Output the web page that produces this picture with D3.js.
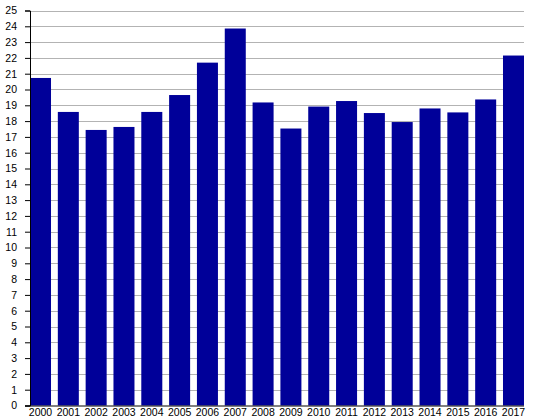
<!DOCTYPE html>
<html><head><meta charset="utf-8">
<script src="https://cdn.jsdelivr.net/npm/d3@7"></script>
<style>body{margin:0;background:#fff;} svg{display:block;font-family:"Liberation Sans",Arial,sans-serif;}</style>
</head><body>
<svg id="chart" width="538" height="420"></svg>
<script>
const years = ["2000","2001","2002","2003","2004","2005","2006","2007","2008","2009","2010","2011","2012","2013","2014","2015","2016","2017"];
const values = [20.73,18.58,17.44,17.63,18.58,19.65,21.7,23.86,19.18,17.53,18.92,19.27,18.51,17.94,18.8,18.55,19.37,22.15];
const yTicks = d3.range(0, 26, 1);

const svg = d3.select("#chart");
const mLeft = 30, mRight = 524, mTop = 10.5, mBottom = 405.5;
const x = d3.scaleBand().domain(years).range([mLeft, mRight]).paddingInner(0.245).paddingOuter(0);
const y = d3.scaleLinear().domain([0, 25]).range([mBottom, mTop]);

// gridlines
svg.append("g").selectAll("line").data(yTicks.filter(d => d > 0)).join("line")
  .attr("x1", mLeft).attr("x2", mRight)
  .attr("y1", d => Math.round(y(d)) + 0.5).attr("y2", d => Math.round(y(d)) + 0.5)
  .attr("stroke", "#b3b3b3").attr("stroke-width", 1);

// bars
svg.append("g").selectAll("rect").data(values).join("rect")
  .attr("x", (d, i) => x(years[i]))
  .attr("width", x.bandwidth())
  .attr("y", d => y(d))
  .attr("height", d => y(0) - y(d))
  .attr("fill", "#000099");

// y axis
const yAxis = d3.axisLeft(y).tickValues(yTicks).tickSize(5).tickPadding(8).tickFormat(d3.format("d"));
const gy = svg.append("g").attr("transform", `translate(${mLeft},0)`).call(yAxis);
gy.select(".domain").attr("stroke", "#000");
gy.selectAll(".tick line").attr("stroke", "#000");
gy.selectAll("text").attr("font-size", 10.5).attr("fill", "#000").attr("font-family", "Liberation Sans, Arial, sans-serif");

// x axis
const xAxis = d3.axisBottom(x).tickSize(0).tickPadding(3);
const gx = svg.append("g").attr("transform", `translate(0,${mBottom})`).call(xAxis);
gx.select(".domain").attr("stroke", "#000").attr("d", `M${mLeft - 5},0.5H${mRight}`);
gx.selectAll("text").attr("font-size", 10.5).attr("fill", "#000").attr("font-family", "Liberation Sans, Arial, sans-serif");
</script>
</body></html>
